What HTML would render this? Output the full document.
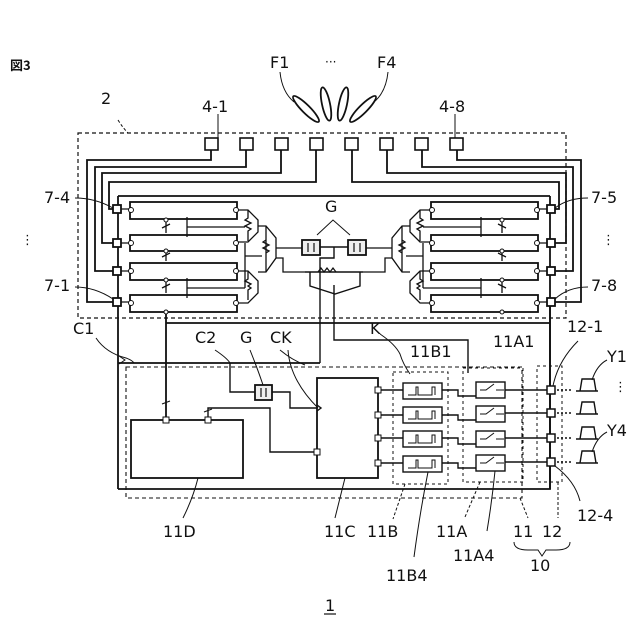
<!DOCTYPE html>
<html><head><meta charset="utf-8"><style>
body{margin:0;background:#fff}
svg{display:block}
text{font-family:"DejaVu Sans","Liberation Sans",sans-serif;font-size:16px;fill:#111}
</style></head><body>
<svg width="640" height="640" viewBox="0 0 640 640" xmlns="http://www.w3.org/2000/svg">
<g stroke="#111" fill="none" stroke-width="1.8">
<ellipse cx="306" cy="109" rx="4" ry="18" transform="rotate(-45 306 109)"/>
<ellipse cx="326" cy="104" rx="4" ry="17" transform="rotate(-12 326 104)"/>
<ellipse cx="343" cy="104" rx="4" ry="17" transform="rotate(12 343 104)"/>
<ellipse cx="363" cy="109" rx="4" ry="18" transform="rotate(45 363 109)"/>
<path d="M280 72 q2 20 14 30" stroke-width="1"/>
<path d="M388 72 q-2 20 -14 30" stroke-width="1"/>
<rect x="78" y="133" width="488" height="185" stroke-dasharray="4 3" stroke-width="1.2"/>
<path d="M118 120 q5 8 10 13" stroke-dasharray="3 2" stroke-width="1"/>
<path d="M218 114 v24 M455 114 v24" stroke-width="1"/>
<g stroke-width="1.6">
<rect x="205" y="138" width="13" height="12"/><rect x="240" y="138" width="13" height="12"/>
<rect x="275" y="138" width="13" height="12"/><rect x="310" y="138" width="13" height="12"/>
<rect x="345" y="138" width="13" height="12"/><rect x="380" y="138" width="13" height="12"/>
<rect x="415" y="138" width="13" height="12"/><rect x="450" y="138" width="13" height="12"/>
</g>
<path d="M118 196 H550"/>
<g id="half">
<path d="M211 150 v10 H87 v92 M87 252 V302 H113"/>
<path d="M246 150 v17 H95 V271 H113"/>
<path d="M281 150 v23 H102 V243 H113"/>
<path d="M316 150 v32 H109 V209 H113"/>
<path d="M118 196 V489"/>
<rect x="113" y="205" width="8" height="8" fill="#fff"/>
<rect x="113" y="239" width="8" height="8" fill="#fff"/>
<rect x="113" y="267" width="8" height="8" fill="#fff"/>
<rect x="113" y="298" width="8" height="8" fill="#fff"/>
<path d="M121 209 H130 M121 243 H130 M121 271 H130 M121 302 H130" stroke-width="1.2"/>
<rect x="130" y="202" width="107" height="17"/>
<rect x="130" y="235" width="107" height="16"/>
<rect x="130" y="263" width="107" height="17"/>
<rect x="130" y="295" width="107" height="17"/>
<g stroke-width="1" fill="#fff">
<circle cx="131" cy="210" r="2.5"/><circle cx="236" cy="210" r="2.5"/>
<circle cx="131" cy="243" r="2.5"/><circle cx="236" cy="243" r="2.5"/>
<circle cx="131" cy="271" r="2.5"/><circle cx="236" cy="271" r="2.5"/>
<circle cx="131" cy="303" r="2.5"/><circle cx="236" cy="303" r="2.5"/>
<circle cx="166" cy="220" r="2"/><circle cx="166" cy="251" r="2"/><circle cx="166" cy="280" r="2"/><circle cx="166" cy="312" r="2"/>
</g>
<g stroke-width="1.3">
<path d="M166 222 V233 M162 228 l8 -4 M166 253 V261 M162 257 l8 -4 M166 282 V293 M162 288 l8 -4"/>
<path d="M187 217 V237 M187 227 H245 M187 278 V298 M187 288 H245"/>
<path d="M238 210 H248 l10 10 v12 l-10 10 H238"/>
<path d="M248 210 v8 l-3 2 l6 3 l-6 3 l6 3 l-3 2 v10"/>
<path d="M238 271 H248 l10 10 v12 l-10 10 H238"/>
<path d="M248 271 v8 l-3 2 l6 3 l-3 2 l3 2 l-3 2 v10"/>
<path d="M258 226 H266 l10 12 v20 l-10 14 H258 M266 226 V272 M266 240 l-3 2 l6 3 l-6 3 l6 3 l-3 2"/>
<path d="M245 243 V288 M245 256 H262 M276 248 H302 M276 258 H283 V272 H305"/>
</g>
</g>
<use href="#half" transform="translate(668,0) scale(-1,1)"/>
<rect x="302" y="240" width="18" height="15" fill="#eee"/>
<rect x="348" y="240" width="18" height="15" fill="#eee"/>
<path d="M308 243 v9 M314 243 v9 M354 243 v9 M360 243 v9" stroke-width="1.2"/>
<path d="M320 247 H348 M334 247 V258 H320 V363 M305 272 H363 M334 285 V340 H468 V373 M310 272 v14 l25 8 l25 -8 v-14" stroke-width="1.4"/>
<path d="M318 272 l3 -4 l3 4 l3 -4 l3 4 l3 -4 l3 4" stroke-width="1.2"/>
<path d="M317 235 l16 -15 l17 15" stroke-width="1"/>
<path d="M166 314 V420 M166 323 H550"/>
<path d="M118 363 H320"/>
<path d="M119 356 l6 4 l-6 4" stroke-width="1"/>
<path d="M96 338 q10 15 30 20 q6 2 8 5" stroke-width="1"/>
<path d="M118 489 H550 V306"/>
<rect x="126" y="367" width="396" height="131" stroke-dasharray="4 3" stroke-width="1.1"/>
<rect x="131" y="420" width="112" height="58"/>
<rect x="317" y="378" width="61" height="100"/>
<rect x="163" y="417" width="6" height="6" fill="#fff" stroke-width="1"/>
<rect x="205" y="417" width="6" height="6" fill="#fff" stroke-width="1"/>
<path d="M162 404 l8 -3 M204 412 l8 -3" stroke-width="1.2"/>
<path d="M208 417 V408 H270 V452 H314" stroke-width="1.4"/>
<rect x="314" y="449" width="6" height="6" fill="#fff" stroke-width="1"/>
<path d="M230 363 V392 H255 M272 392 H290 V408 H317 M317 405 l4 3 l-4 3" stroke-width="1.4"/>
<rect x="255" y="385" width="17" height="15" fill="#eee"/>
<path d="M261 388 v9 M266 388 v9" stroke-width="1.2"/>
<path d="M215 350 q12 8 15 13 M250 350 q8 20 13 35 M280 350 q12 10 25 15 M288 350 q2 30 30 58 M380 334 q15 10 20 20 q3 10 10 20" stroke-width="1"/>
<rect x="393" y="372" width="55" height="112" stroke-dasharray="3 3" stroke-width="1"/>
<rect x="463" y="368" width="60" height="114" stroke-dasharray="3 3" stroke-width="1"/>
<rect x="537" y="366" width="25" height="116" stroke-dasharray="3 3" stroke-width="1"/>
<g stroke-width="1.4">
<path d="M378 390 H403 M442 390 H458 V396 H476 M505 390 H548"/>
<path d="M378 415 H403 M442 415 H458 V420 H476 M505 413 H548"/>
<path d="M378 438 H403 M442 438 H458 V444 H476 M505 438 H548"/>
<path d="M378 463 H403 M442 463 H458 V468 H476 M505 462 H548"/>
<rect x="403" y="383" width="39" height="16"/><rect x="403" y="407" width="39" height="16"/>
<rect x="403" y="431" width="39" height="16"/><rect x="403" y="456" width="39" height="16"/>
<rect x="476" y="382" width="29" height="16"/><rect x="476" y="406" width="29" height="16"/>
<rect x="476" y="431" width="29" height="16"/><rect x="476" y="455" width="29" height="16"/>
<path d="M408 395 h8 v-8 h2 v8 h14 v-8 h3 v8" stroke-width="1"/>
<path d="M408 419 h8 v-8 h2 v8 h14 v-8 h3 v8" stroke-width="1"/>
<path d="M408 443 h8 v-8 h2 v8 h14 v-8 h3 v8" stroke-width="1"/>
<path d="M408 468 h8 v-8 h2 v8 h14 v-8 h3 v8" stroke-width="1"/>
<path d="M480 390 h6 l8 -6 M496 390 h8 M480 414 h6 l8 -6 M496 414 h8 M480 439 h6 l8 -6 M496 439 h8 M480 463 h6 l8 -6 M496 463 h8" stroke-width="1"/>
</g>
<g fill="#fff" stroke-width="1">
<rect x="375" y="387" width="6" height="6"/><rect x="375" y="412" width="6" height="6"/>
<rect x="375" y="435" width="6" height="6"/><rect x="375" y="460" width="6" height="6"/>
</g>
<g fill="#fff" stroke-width="1.5">
<rect x="547" y="386" width="8" height="8"/><rect x="547" y="409" width="8" height="8"/>
<rect x="547" y="434" width="8" height="8"/><rect x="547" y="458" width="8" height="8"/>
</g>
<g stroke-width="1.4">
<path d="M557 390 h14 M557 413 h14 M557 438 h14 M557 462 h14" stroke-dasharray="2 2"/>
<path d="M576 391 h22 M580 391 l2 -12 h12 l2 12 M576 414 h22 M580 414 l2 -12 h12 l2 12 M576 439 h22 M580 439 l2 -12 h12 l2 12 M576 463 h22 M580 463 l2 -12 h12 l2 12"/>
</g>
<g stroke-width="1">
<path d="M198 478 q-5 20 -15 40"/><path d="M345 478 q-5 20 -10 40"/>
<path d="M405 484 l-12 35" stroke-dasharray="3 2"/><path d="M480 482 l-15 35" stroke-dasharray="3 2"/>
<path d="M520 498 l8 20" stroke-dasharray="3 2"/><path d="M558 482 v36" stroke-dasharray="3 2"/>
<path d="M428 472 q-8 40 -14 85"/><path d="M495 471 q-3 30 -8 60"/>
<path d="M555 466 q20 15 25 35"/>
<path d="M553 386 q5 -25 25 -45"/>
<path d="M592 380 q5 -15 15 -20 M592 452 q5 -15 15 -20"/>
<path d="M514 542 q0 8 14 8 h10 l4 6 l4 -6 h10 q14 0 14 -8"/>
<path d="M75 198 q20 0 38 10 M75 287 q20 0 38 12 M588 198 q-20 0 -33 10 M588 287 q-20 0 -33 12"/>
</g>
<path d="M324 614 h12" stroke-width="1.2"/>
</g>
<g>
<text x="10" y="70" style="font-size:13px;font-weight:bold;font-family:'Noto Sans CJK JP',sans-serif">図3</text>
<text x="270" y="68">F1</text><text x="325" y="66" style="font-size:12px">···</text><text x="377" y="68">F4</text>
<text x="101" y="104">2</text>
<text x="202" y="112">4-1</text><text x="439" y="112">4-8</text>
<text x="44" y="203">7-4</text><text x="44" y="291">7-1</text>
<text x="591" y="203">7-5</text><text x="591" y="291">7-8</text>
<text x="21" y="244" style="font-size:13px">⋮</text><text x="602" y="244" style="font-size:13px">⋮</text>
<text x="325" y="212">G</text>
<text x="73" y="334">C1</text><text x="195" y="343">C2</text><text x="240" y="343">G</text><text x="270" y="343">CK</text>
<text x="370" y="334">K</text>
<text x="410" y="357">11B1</text><text x="493" y="347">11A1</text><text x="567" y="332">12-1</text>
<text x="607" y="362">Y1</text><text x="607" y="436">Y4</text><text x="614" y="391" style="font-size:13px">⋮</text>
<text x="577" y="521">12-4</text>
<text x="163" y="537">11D</text><text x="324" y="537">11C</text><text x="367" y="537">11B</text><text x="436" y="537">11A</text>
<text x="513" y="537">11</text><text x="542" y="537">12</text><text x="530" y="571">10</text>
<text x="453" y="561">11A4</text><text x="386" y="581">11B4</text>
<text x="325" y="611">1</text>
</g>
</svg>
</body></html>
